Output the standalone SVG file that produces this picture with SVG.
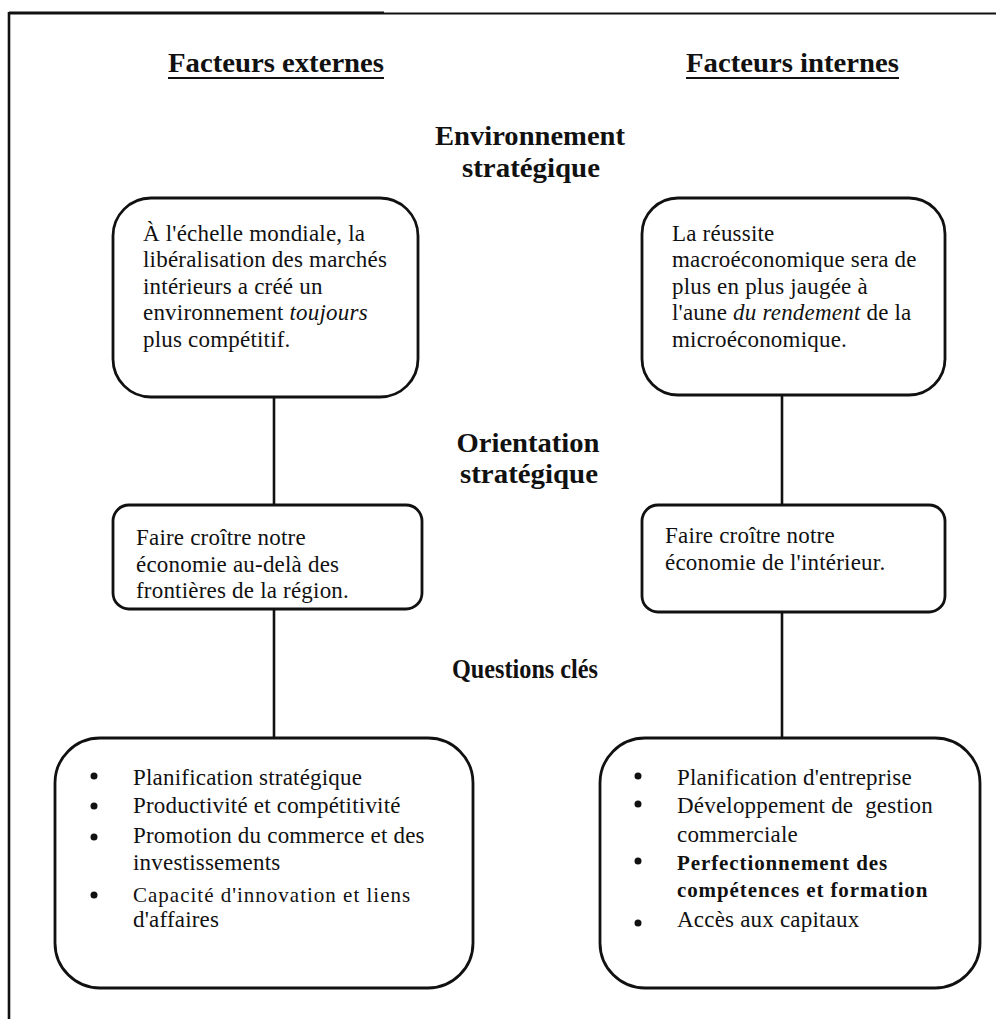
<svg xmlns="http://www.w3.org/2000/svg" width="996" height="1019" viewBox="0 0 996 1019">
<style>
text{font-family:"Liberation Serif","Times New Roman",serif;fill:#111}
.hd{font-size:28px;font-weight:bold}
.sec{font-size:27px;font-weight:bold;text-anchor:middle}
.t{font-size:23px;letter-spacing:0.2px}
.s{font-size:21px;letter-spacing:1px}
.b{font-size:21px;font-weight:bold;letter-spacing:0.9px}
.box{fill:#fff;stroke:#111;stroke-width:2.8}
.ln{stroke:#111;stroke-width:2.6;fill:none}
.dot{fill:#111}
</style>
<rect width="996" height="1019" fill="#fff"/>
<g id="frame">
<line x1="9" y1="13" x2="384" y2="13" stroke="#111" stroke-width="3.2"/>
<line x1="384" y1="13.5" x2="996" y2="13.5" stroke="#111" stroke-width="2.2"/>
<line x1="9" y1="12" x2="9" y2="1019" stroke="#111" stroke-width="2.6"/>
</g>
<g id="headers">
<text class="hd" x="168" y="72" textLength="216" lengthAdjust="spacingAndGlyphs">Facteurs externes</text>
<line x1="168" y1="78" x2="384" y2="78" stroke="#111" stroke-width="2"/>
<text class="hd" x="686" y="72" textLength="213" lengthAdjust="spacingAndGlyphs">Facteurs internes</text>
<line x1="686" y1="78" x2="899" y2="78" stroke="#111" stroke-width="2"/>
<text class="sec" x="530" y="145" textLength="190" lengthAdjust="spacingAndGlyphs">Environnement</text>
<text class="sec" x="531" y="177" textLength="138" lengthAdjust="spacingAndGlyphs">stratégique</text>
<text class="sec" x="528" y="452" textLength="143" lengthAdjust="spacingAndGlyphs">Orientation</text>
<text class="sec" x="529" y="483" textLength="138" lengthAdjust="spacingAndGlyphs">stratégique</text>
<text class="sec" x="525" y="678" textLength="146" lengthAdjust="spacingAndGlyphs">Questions clés</text>
</g>
<g id="connectors">
<line class="ln" x1="274" y1="397" x2="274" y2="505"/>
<line class="ln" x1="274" y1="609" x2="274" y2="738"/>
<line class="ln" x1="782" y1="395" x2="782" y2="505"/>
<line class="ln" x1="782" y1="612" x2="782" y2="738"/>
</g>
<g id="env-ext">
<rect class="box" x="113" y="198" width="305" height="199" rx="38"/>
<text class="t" x="143" y="241">À l'échelle mondiale, la</text>
<text class="t" x="143" y="267">libéralisation des marchés</text>
<text class="t" x="143" y="294">intérieurs a créé un</text>
<text class="t" x="143" y="320">environnement <tspan font-style="italic">toujours</tspan></text>
<text class="t" x="143" y="347">plus compétitif.</text>
</g>
<g id="env-int">
<rect class="box" x="642" y="198" width="303" height="197" rx="36"/>
<text class="t" x="672" y="241">La réussite</text>
<text class="t" x="672" y="267">macroéconomique sera de</text>
<text class="t" x="672" y="294">plus en plus jaugée à</text>
<text class="t" x="672" y="320">l'aune <tspan font-style="italic">du rendement</tspan> de la</text>
<text class="t" x="672" y="347">microéconomique.</text>
</g>
<g id="orient-ext">
<rect class="box" x="113" y="505" width="309" height="104" rx="16"/>
<text class="t" x="136" y="545">Faire croître notre</text>
<text class="t" x="136" y="572">économie au-delà des</text>
<text class="t" x="136" y="598">frontières de la région.</text>
</g>
<g id="orient-int">
<rect class="box" x="642" y="505" width="303" height="107" rx="16"/>
<text class="t" x="665" y="543">Faire croître notre</text>
<text class="t" x="665" y="570">économie de l'intérieur.</text>
</g>
<g id="questions-ext">
<rect class="box" x="55" y="738" width="418" height="250" rx="45"/>
<circle class="dot" cx="94" cy="776" r="3.5"/>
<text class="t" x="133" y="785">Planification stratégique</text>
<circle class="dot" cx="94" cy="806" r="3.5"/>
<text class="t" x="133" y="813">Productivité et compétitivité</text>
<circle class="dot" cx="94" cy="837" r="3.5"/>
<text class="t" x="133" y="843">Promotion du commerce et des</text>
<text class="t" x="133" y="870">investissements</text>
<circle class="dot" cx="94" cy="895" r="3.5"/>
<text class="s" x="133" y="902">Capacité d'innovation et liens</text>
<text class="t" x="133" y="927">d'affaires</text>
</g>
<g id="questions-int">
<rect class="box" x="600" y="738" width="380" height="250" rx="45"/>
<circle class="dot" cx="638" cy="776" r="3.5"/>
<text class="t" x="677" y="785">Planification d'entreprise</text>
<circle class="dot" cx="638" cy="804" r="3.5"/>
<text class="t" x="677" y="813">Développement de&#160; gestion</text>
<text class="t" x="677" y="842">commerciale</text>
<circle class="dot" cx="638" cy="861" r="3.5"/>
<text class="b" x="677" y="870">Perfectionnement des</text>
<text class="b" x="677" y="897">compétences et formation</text>
<circle class="dot" cx="638" cy="923" r="3.5"/>
<text class="t" x="677" y="927">Accès aux capitaux</text>
</g>
</svg>
